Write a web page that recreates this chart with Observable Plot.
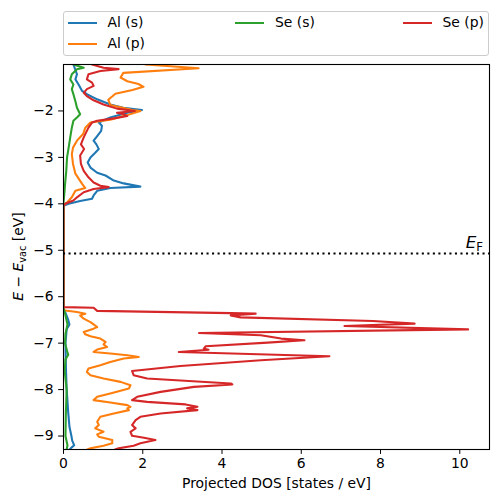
<!DOCTYPE html>
<html>
<head>
<meta charset="utf-8">
<script src="https://cdn.jsdelivr.net/npm/d3@7"></script>
<script src="https://cdn.jsdelivr.net/npm/@observablehq/plot@0.6"></script>
<style>
  html, body { margin: 0; padding: 0; background: #fff; }
  body { font-family: "DejaVu Sans", sans-serif; width: 498px; height: 502px; overflow: hidden; }
  #top { position: relative; width: 498px; height: 60px; }
  #legend { position: absolute; left: 63px; top: 10.5px; width: 426px; height: 45.5px;
            box-sizing: border-box; border: 1px solid #cccccc; border-radius: 3px; background: #fff; }
  .sw { position: absolute; width: 29px; height: 2px; }
  .lb { position: absolute; font-size: 13.9px; line-height: 16px; height: 16px; color: #000; white-space: nowrap; }
  svg { display: block; }
</style>
</head>
<body>
<div id="top"><div id="legend"></div></div>
<div id="chart"></div>
<script>
// ---------------- data ----------------
const seriesNames = ["Al (s)", "Al (p)", "Se (s)", "Se (p)"];
const seriesColors = ["#1f77b4", "#ff7f0e", "#2ca02c", "#d62728"];
const xTicks = [0, 2, 4, 6, 8, 10];
const yTicks = [-9, -8, -7, -6, -5, -4, -3, -2];
const fermiLevel = -5.07;

// Al (s)
const alS_E = [-1.0,-1.21,-1.32,-1.43,-1.57,-1.64,-1.75,-1.86,-1.93,-1.98,
  -2.04,-2.14,-2.25,-2.32,-2.43,-2.54,-2.64,-2.72,-2.82,-2.90,
  -3.00,-3.11,-3.22,-3.33,-3.39,-3.50,-3.56,-3.63,-3.66,-3.72,
  -3.82,-3.89,-3.94,-4.00,-4.04,
  -6.25,-6.35,-6.5,-6.6,-6.7,-7.0,-7.5,-8.0,-8.5,-8.8,-9.0,-9.1,-9.2,-9.25,-9.29];
const alS_dos = [0.25,0.34,0.30,0.38,0.47,0.59,0.85,1.18,1.51,1.98,
  1.61,1.18,0.89,0.97,0.95,0.85,0.76,0.83,0.89,0.80,
  0.68,0.61,0.68,0.85,1.06,1.27,1.52,1.94,1.18,0.85,
  0.76,0.72,0.42,0.13,0,
  0,0.05,0.12,0.15,0.08,0.05,0.06,0.08,0.12,0.15,0.2,0.22,0.27,0.2,0.15];

// Al (p)
const alP_E = [-1.0,-1.08,-1.18,-1.28,-1.36,-1.42,-1.48,-1.55,-1.63,-1.76,
  -1.87,-1.93,-1.98,-2.00,-2.09,-2.19,-2.25,-2.36,-2.49,-2.64,
  -2.79,-2.93,-3.14,-3.35,-3.57,-3.66,-3.72,-3.86,-3.97,-4.04,
  -6.27,-6.295,-6.331,-6.366,-6.402,-6.473,-6.546,-6.595,-6.653,-6.688,
  -6.760,-6.810,-6.853,-6.902,-6.975,-7.025,-7.083,-7.138,-7.190,-7.224,
  -7.261,-7.297,-7.332,-7.405,-7.476,-7.547,-7.619,-7.690,-7.761,-7.834,
  -7.905,-7.976,-8.083,-8.156,-8.227,-8.276,-8.334,-8.371,-8.405,-8.442,
  -8.513,-8.586,-8.693,-8.764,-8.835,-8.908,-8.964,-9.015,-9.086,-9.157,
  -9.209,-9.265,-9.29];
const alP_dos = [2.07,3.41,1.51,1.44,1.61,1.89,2.02,1.74,1.31,1.13,
  1.18,1.49,1.74,1.94,1.61,1.18,0.68,0.55,0.50,0.34,
  0.24,0.21,0.24,0.30,0.47,0.55,0.30,0.21,0.09,0,
  0,0.04,0.34,0.55,0.42,0.51,0.68,0.76,0.85,0.76,
  0.51,0.55,0.68,0.93,1.06,1.01,1.10,0.85,0.76,1.18,
  1.61,1.90,1.52,1.18,0.93,0.63,0.59,0.68,1.01,1.44,
  1.69,1.65,1.18,0.85,0.76,1.18,1.61,1.69,1.61,1.65,
  1.27,0.93,0.85,0.89,0.80,1.01,0.85,0.89,1.23,1.23,
  1.01,0.68,0.60];

// Se (s)
const seS_E = [-1.0,-1.07,-1.10,-1.21,-1.32,-1.43,-1.53,-1.64,-1.79,-1.93,
  -2.00,-2.07,-2.14,-2.21,-2.36,-2.57,-2.79,-3.00,-3.29,-3.57,
  -3.79,-3.97,
  -6.25,-6.4,-6.6,-6.8,-7.0,-7.2,-7.25,-7.35,-7.6,-8.0,-8.5,-9.0,-9.2,-9.29];
const seS_dos = [0.25,0.51,0.34,0.21,0.17,0.25,0.21,0.25,0.30,0.34,
  0.38,0.42,0.34,0.25,0.21,0.17,0.13,0.09,0.07,0.04,
  0.02,0,
  0,0.05,0.1,0.05,0.04,0.1,0.12,0.05,0.03,0.08,0.06,0.05,0.1,0.08];

// Se (p)
const seP_E = [-1.0,-1.07,-1.10,-1.14,-1.21,-1.32,-1.39,-1.46,-1.53,-1.61,
  -1.68,-1.77,-1.86,-1.95,-2.00,-2.04,-2.07,-2.11,-2.16,-2.21,
  -2.25,-2.36,-2.43,-2.57,-2.72,-2.82,-2.96,-3.14,-3.29,-3.43,
  -3.54,-3.61,-3.64,-3.68,-3.75,-3.86,-3.93,-4.00,-4.04,
  -6.224,-6.237,-6.305,-6.353,-6.365,-6.402,-6.445,-6.524,-6.580,-6.632,
  -6.703,-6.782,-6.831,-6.902,-6.939,-6.988,-7.068,-7.117,-7.143,-7.190,
  -7.282,-7.368,-7.491,-7.598,-7.690,-7.761,-7.869,-7.890,-7.942,-8.049,
  -8.156,-8.227,-8.264,-8.319,-8.371,-8.405,-8.442,-8.513,-8.586,-8.657,
  -8.764,-8.835,-8.908,-8.994,-9.037,-9.086,-9.157,-9.209,-9.265,-9.29];
const seP_dos = [0.72,1.01,1.39,0.93,0.63,0.59,0.72,0.76,0.59,0.51,
  0.59,0.76,1.01,1.35,1.80,1.35,1.52,1.61,1.27,0.85,
  0.72,0.63,0.59,0.51,0.44,0.52,0.42,0.44,0.51,0.63,
  0.76,0.93,1.14,0.76,0.51,0.34,0.25,0.04,0,
  0,0.76,0.85,4.22,4.85,4.22,4.47,7.81,8.86,7.09,
  10.21,3.42,4.98,5.49,6.08,5.15,3.59,3.54,3.66,2.91,
  6.71,4.98,2.95,1.73,1.77,2.11,4.22,4.26,3.29,2.45,
  1.86,1.73,2.11,3.08,3.38,3.12,3.38,2.45,1.94,1.82,
  1.73,1.82,1.69,1.73,2.03,2.32,1.94,1.77,1.39,1.30];

// ---------------- build table ----------------
const energies = [alS_E, alP_E, seS_E, seP_E];
const doses = [alS_dos, alP_dos, seS_dos, seP_dos];
const rows = [];
seriesNames.forEach((name, i) => {
  energies[i].forEach((e, j) => rows.push({series: name, E: e, dos: doses[i][j]}));
});

// ---------------- plot ----------------
const W = 498, H = 442;
const LW = 2.08; // 1.5pt at 100 dpi
const chart = Plot.plot({
  width: W, height: H,
  marginLeft: 63, marginRight: 9, marginTop: 4, marginBottom: 53,
  style: {fontFamily: "DejaVu Sans, sans-serif", fontSize: "13.9px", color: "#000", background: "#fff", overflow: "visible"},
  x: {domain: [0, 10.75]},
  y: {domain: [-9.29, -1.0]},
  color: {domain: seriesNames, range: seriesColors},
  marks: [
    ...seriesNames.map(name => Plot.line(rows.filter(d => d.series === name),
      {x: "dos", y: "E", stroke: "series", strokeWidth: LW, clip: true, strokeLinejoin: "round"})),
    Plot.ruleY([fermiLevel], {stroke: "#000", strokeWidth: LW, strokeDasharray: "2.08,3.44"}),
    Plot.frame({stroke: "#000", strokeWidth: 1.1}),
    Plot.axisX({ticks: xTicks, tickSize: 4.9, tickPadding: 3.5, label: null, tickFormat: d3.format("d")}),
    Plot.axisY({ticks: yTicks, tickSize: 4.9, tickPadding: 4.9, label: null, tickFormat: d3.format("d")}),
    Plot.text(["Projected DOS [states / eV]"], {frameAnchor: "bottom", dy: 34, text: d => d, fontSize: 13.9, lineAnchor: "middle"})
  ]
});
document.getElementById("chart").appendChild(chart);

// annotations using the plot's scales
const sx = chart.scale("x"), sy = chart.scale("y");
const svg = d3.select(chart);
const yMid = (sy.apply(-9.29) + sy.apply(-1.0)) / 2;

// y label: E − E_vac [eV]
const yl = svg.append("text")
  .attr("transform", `translate(23,${yMid}) rotate(-90)`)
  .attr("text-anchor", "middle")
  .attr("font-size", 13.9)
  .attr("fill", "#000");
yl.append("tspan").attr("font-style", "italic").text("E");
yl.append("tspan").text(" − ");
yl.append("tspan").attr("font-style", "italic").text("E");
yl.append("tspan").attr("font-size", 9.7).attr("dy", 3).text("vac");
yl.append("tspan").attr("dy", -3).text(" [eV]");

// E_F label
const ef = svg.append("text")
  .attr("x", sx.apply(10.75) - 6)
  .attr("y", sy.apply(fermiLevel) - 5)
  .attr("text-anchor", "end")
  .attr("font-size", 16.7)
  .attr("fill", "#000");
ef.append("tspan").attr("font-style", "italic").text("E");
ef.append("tspan").attr("font-size", 11.7).attr("dy", 3).text("F");

// legend: 3 columns filled column by column (matplotlib ncol=3)
const legendCol = [0, 0, 1, 2];
const legendRow = [0, 1, 0, 0];
const legend = d3.select("#legend");
seriesNames.forEach((name, i) => {
  const left = 3.5 + legendCol[i] * 167.5;
  const cy = 11 + legendRow[i] * 21.3;
  legend.append("div").attr("class", "sw")
    .style("left", left + "px").style("top", (cy - 1) + "px")
    .style("background", seriesColors[i]);
  legend.append("div").attr("class", "lb")
    .style("left", (left + 40) + "px").style("top", (cy - 8.5) + "px")
    .text(name);
});
</script>
</body>
</html>
